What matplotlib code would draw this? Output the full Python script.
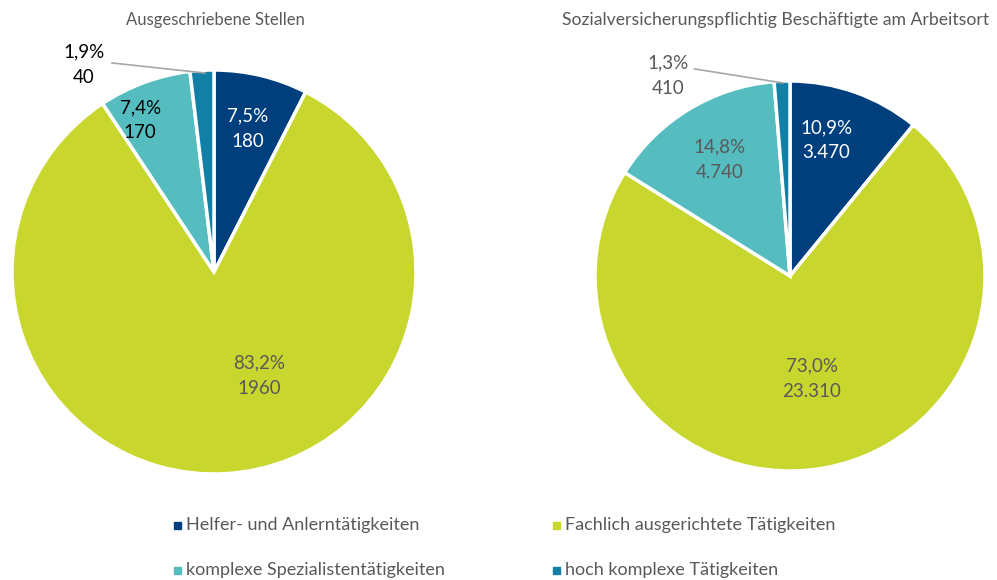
import matplotlib.pyplot as plt
from matplotlib.patches import Rectangle

plt.rcParams['font.family'] = ['Lato', 'DejaVu Sans']

categories = ['Helfer- und Anlerntätigkeiten', 'Fachlich ausgerichtete Tätigkeiten',
              'komplexe Spezialistentätigkeiten', 'hoch komplexe Tätigkeiten']
colors = ['#003f7d', '#c9d62d', '#55bcc0', '#127fa6']

title_left = 'Ausgeschriebene Stellen'
pct_left = [7.5, 83.2, 7.4, 1.9]
count_left = ['180', '1960', '170', '40']

title_right = 'Sozialversicherungspflichtig Beschäftigte am Arbeitsort'
pct_right = [10.9, 73.0, 14.8, 1.3]
count_right = ['3.470', '23.310', '4.740', '410']

W, H = 997, 580
fig = plt.figure(figsize=(W / 100, H / 100), dpi=100)
grey = '#595959'


def draw_pie(cx, cy, r, pct, counts, label_pos, label_cols, leader):
    ax = fig.add_axes([(cx - r) / W, (H - cy - r) / H, 2 * r / W, 2 * r / H])
    ax.pie(pct, colors=colors, startangle=90, counterclock=False,
           wedgeprops=dict(edgecolor='white', linewidth=2.5))
    ax.set_xlim(-1, 1)
    ax.set_ylim(-1, 1)
    for p, c, (x, y), col in zip(pct, counts, label_pos, label_cols):
        txt = f'{p:.1f}'.replace('.', ',') + '%\n' + c
        ax.text(x, y, txt, ha='center', va='center', color=col,
                fontsize=13.5, linespacing=1.6, clip_on=False)
    (x0, y0), (x1, y1) = leader
    ax.plot([x0, x1], [y0, y1], color='#a6a6a6', lw=1.2, clip_on=False)
    return ax


draw_pie(214, 272, 202, pct_left, count_left,
         [(0.168, 0.708), (0.223, -0.515), (-0.366, 0.752), (-0.644, 1.025)],
         ['white', grey, 'black', 'black'],
         [(-0.505, 1.035), (-0.045, 0.985)])
draw_pie(790, 276, 195, pct_right, count_right,
         [(0.185, 0.697), (0.113, -0.528), (-0.359, 0.595), (-0.626, 1.026)],
         ['white', grey, grey, grey],
         [(-0.49, 1.062), (-0.036, 0.99)])

fig.text(215 / W, 1 - 20 / H, title_left, ha='center', va='center',
         fontsize=12, color=grey)
fig.text(776 / W, 1 - 20 / H, title_right, ha='center', va='center',
         fontsize=12.7, color=grey)

# legend
leg_x = [177, 556]
leg_y = [525, 570]
for i, (cat, col) in enumerate(zip(categories, colors)):
    x = leg_x[i % 2]
    y = leg_y[i // 2]
    fig.add_artist(Rectangle(((x - 3.5) / W, 1 - (y + 3.5) / H), 7 / W, 7 / H,
                             transform=fig.transFigure, color=col))
    fig.text((x + 9) / W, 1 - y / H, cat, ha='left', va='center',
             fontsize=13, color=grey)

fig.savefig('out.png', dpi=100)
